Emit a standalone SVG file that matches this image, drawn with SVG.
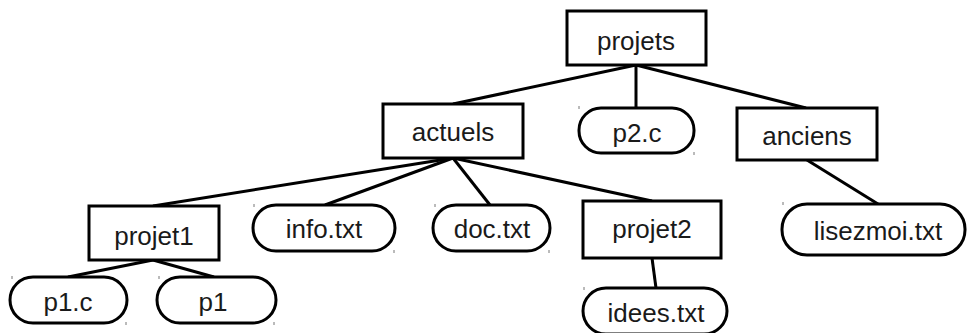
<svg xmlns="http://www.w3.org/2000/svg" width="967" height="333" viewBox="0 0 967 333">
<style>
.box{fill:#fff;stroke:#000;stroke-width:3}
.pill{fill:#fff;stroke:#000;stroke-width:3}
.lbl{font-family:"Liberation Sans",Arial,sans-serif;font-size:26px;fill:#1a1a1a;text-anchor:middle}
.edge{stroke:#000;stroke-width:3;fill:none}
.tick{stroke:#777;stroke-width:1}
</style>
<rect width="967" height="333" fill="#fff"/>
<g id="connectors">
<line class="edge" x1="636" y1="65" x2="453" y2="104"/>
<line class="edge" x1="636" y1="65" x2="636" y2="108"/>
<line class="edge" x1="636" y1="65" x2="806" y2="108"/>
<line class="edge" x1="453" y1="158" x2="153" y2="206"/>
<line class="edge" x1="453" y1="158" x2="325" y2="205"/>
<line class="edge" x1="453" y1="158" x2="490" y2="205"/>
<line class="edge" x1="453" y1="158" x2="652" y2="201"/>
<line class="edge" x1="807" y1="160" x2="878" y2="204"/>
<line class="edge" x1="153" y1="260" x2="68" y2="277"/>
<line class="edge" x1="153" y1="260" x2="214" y2="277"/>
<line class="edge" x1="652" y1="258" x2="656" y2="288"/>
</g>
<g id="projets"><rect class="box" x="567" y="11" width="139" height="54"/><text class="lbl" x="636" y="50">projets</text></g>
<g id="actuels"><rect class="box" x="383" y="104" width="140" height="54"/><text class="lbl" x="453" y="141">actuels</text></g>
<g id="p2c"><rect class="pill" x="579" y="108" width="115" height="45" rx="22"/><text class="lbl" x="637" y="142">p2.c</text></g>
<g id="anciens"><rect class="box" x="737" y="108" width="140" height="52"/><text class="lbl" x="807" y="145">anciens</text></g>
<g id="projet1"><rect class="box" x="89" y="206" width="130" height="54"/><text class="lbl" x="154" y="245">projet1</text></g>
<g id="infotxt"><rect class="pill" x="253" y="205" width="142" height="46" rx="23"/><text class="lbl" x="324" y="238">info.txt</text></g>
<g id="doctxt"><rect class="pill" x="433" y="205" width="117" height="46" rx="23"/><text class="lbl" x="492" y="238">doc.txt</text></g>
<g id="projet2"><rect class="box" x="583" y="201" width="138" height="57"/><text class="lbl" x="652" y="238">projet2</text></g>
<g id="lisezmoi"><rect class="pill" x="782" y="204" width="183" height="51" rx="25"/><text class="lbl" x="878" y="240">lisezmoi.txt</text></g>
<g id="p1c"><rect class="pill" x="10" y="277" width="117" height="46" rx="23"/><text class="lbl" x="68" y="311">p1.c</text></g>
<g id="p1"><rect class="pill" x="157" y="277" width="119" height="46" rx="23"/><text class="lbl" x="213" y="311">p1</text></g>
<g id="ideestxt"><rect class="pill" x="583" y="288" width="144" height="46" rx="23"/><text class="lbl" x="656" y="322">idees.txt</text></g>
<g id="ticks">
<line class="tick" x1="12" y1="276" x2="12" y2="279"/><line class="tick" x1="126" y1="322" x2="126" y2="325"/>
<line class="tick" x1="159" y1="276" x2="159" y2="279"/><line class="tick" x1="274" y1="322" x2="274" y2="325"/>
<line class="tick" x1="254" y1="204" x2="254" y2="207"/><line class="tick" x1="394" y1="250" x2="394" y2="253"/>
<line class="tick" x1="435" y1="204" x2="435" y2="207"/><line class="tick" x1="549" y1="250" x2="549" y2="253"/>
<line class="tick" x1="579" y1="106" x2="579" y2="109"/><line class="tick" x1="694" y1="152" x2="694" y2="155"/>
<line class="tick" x1="783" y1="202" x2="783" y2="205"/>
<line class="tick" x1="584" y1="287" x2="584" y2="290"/>
</g>
</svg>
